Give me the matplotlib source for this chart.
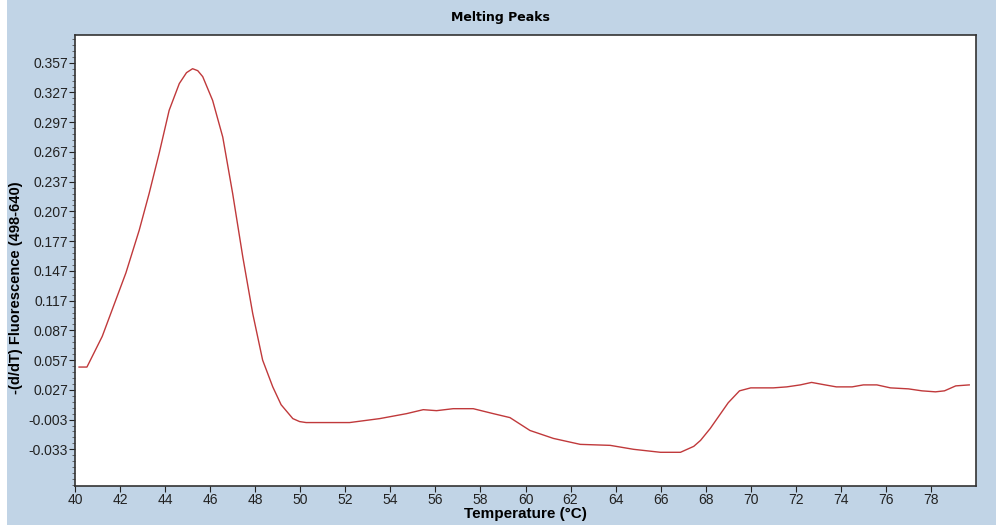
import numpy as np
import matplotlib
matplotlib.use("Agg")
import matplotlib.pyplot as plt
from matplotlib.patches import Rectangle
from matplotlib.ticker import FixedLocator

plt.rcParams['font.family'] = ['Liberation Sans Narrow', 'Liberation Sans', 'DejaVu Sans']

# melting peak curve
temp = [40.18, 40.53, 41.21, 42.26, 42.85, 43.29, 43.74, 44.18, 44.63, 44.95, 45.22, 45.45,
        45.67, 46.11, 46.56, 47.0, 47.45, 47.89, 48.33, 48.78, 49.15, 49.67, 49.97, 50.26,
        51.2, 52.19, 53.53, 54.72, 55.46, 56.05, 56.79, 57.68, 58.57, 59.31, 60.2, 61.24,
        62.43, 63.76, 64.8, 65.99, 66.88, 67.47, 67.77, 68.2, 68.6, 69.0, 69.5, 70.0,
        71.0, 71.6, 72.2, 72.7, 73.3, 73.8, 74.5, 75.0, 75.6, 76.2, 77.0, 77.6, 78.2,
        78.6, 79.1, 79.7]
dfdt = [0.050, 0.050, 0.081, 0.145, 0.188, 0.225, 0.266, 0.309, 0.336, 0.347, 0.351, 0.349,
        0.343, 0.319, 0.282, 0.225, 0.161, 0.104, 0.057, 0.030, 0.012, -0.002, -0.005, -0.006,
        -0.006, -0.006, -0.002, 0.003, 0.007, 0.006, 0.008, 0.008, 0.003, -0.001, -0.014, -0.022,
        -0.028, -0.029, -0.033, -0.036, -0.036, -0.030, -0.024, -0.012, 0.001, 0.014, 0.026, 0.029,
        0.029, 0.030, 0.032, 0.0345, 0.032, 0.030, 0.030, 0.032, 0.032, 0.029, 0.028, 0.026, 0.025,
        0.026, 0.031, 0.032]

x_ticks = list(range(40, 80, 2))
y_ticks = [-0.033, -0.003, 0.027, 0.057, 0.087, 0.117, 0.147, 0.177, 0.207, 0.237, 0.267,
           0.297, 0.327, 0.357]

fig = plt.figure(figsize=(9.96, 5.29), dpi=100, facecolor='white')
bg = Rectangle((7 / 996, 4 / 529), 1, 1, transform=fig.transFigure,
               facecolor='#c1d4e6', edgecolor='none', zorder=-10)
fig.patches.append(bg)
ax = fig.add_axes([75 / 996, 43 / 529, 901 / 996, 451 / 529])
ax.set_zorder(1)
ax.set_facecolor('white')

ax.plot(temp, dfdt, color='#c0393b', lw=1.0)

ax.set_xlim(40, 80)
ax.set_ylim(-0.070, 0.385)
ax.set_xticks(x_ticks)
ax.set_yticks(y_ticks)
ax.set_yticklabels(['%.3f' % v for v in y_ticks])
ax.yaxis.set_minor_locator(FixedLocator(np.arange(-0.069, 0.385, 0.006)))
ax.tick_params(axis='both', which='major', direction='out', length=4, width=0.8,
               labelsize=10, colors='#222222', pad=1)
ax.tick_params(axis='y', which='minor', direction='out', length=2, width=0.6, colors='#555555')
for sp in ax.spines.values():
    sp.set_color('#333333')
    sp.set_linewidth(1.2)

ax.set_xlabel('Temperature (°C)', fontsize=11, fontweight='bold', labelpad=0)
ax.set_ylabel('-(d/dT) Fluorescence (498-640)', fontsize=10.5, fontweight='bold', labelpad=6)
ax.yaxis.set_label_coords(-0.058, 0.44)
fig.text(0.502, 0.966, 'Melting Peaks', ha='center', va='center', fontsize=9,
         fontweight='bold', family=['DejaVu Sans'])

fig.savefig('out.png', dpi=100, facecolor=fig.get_facecolor())
